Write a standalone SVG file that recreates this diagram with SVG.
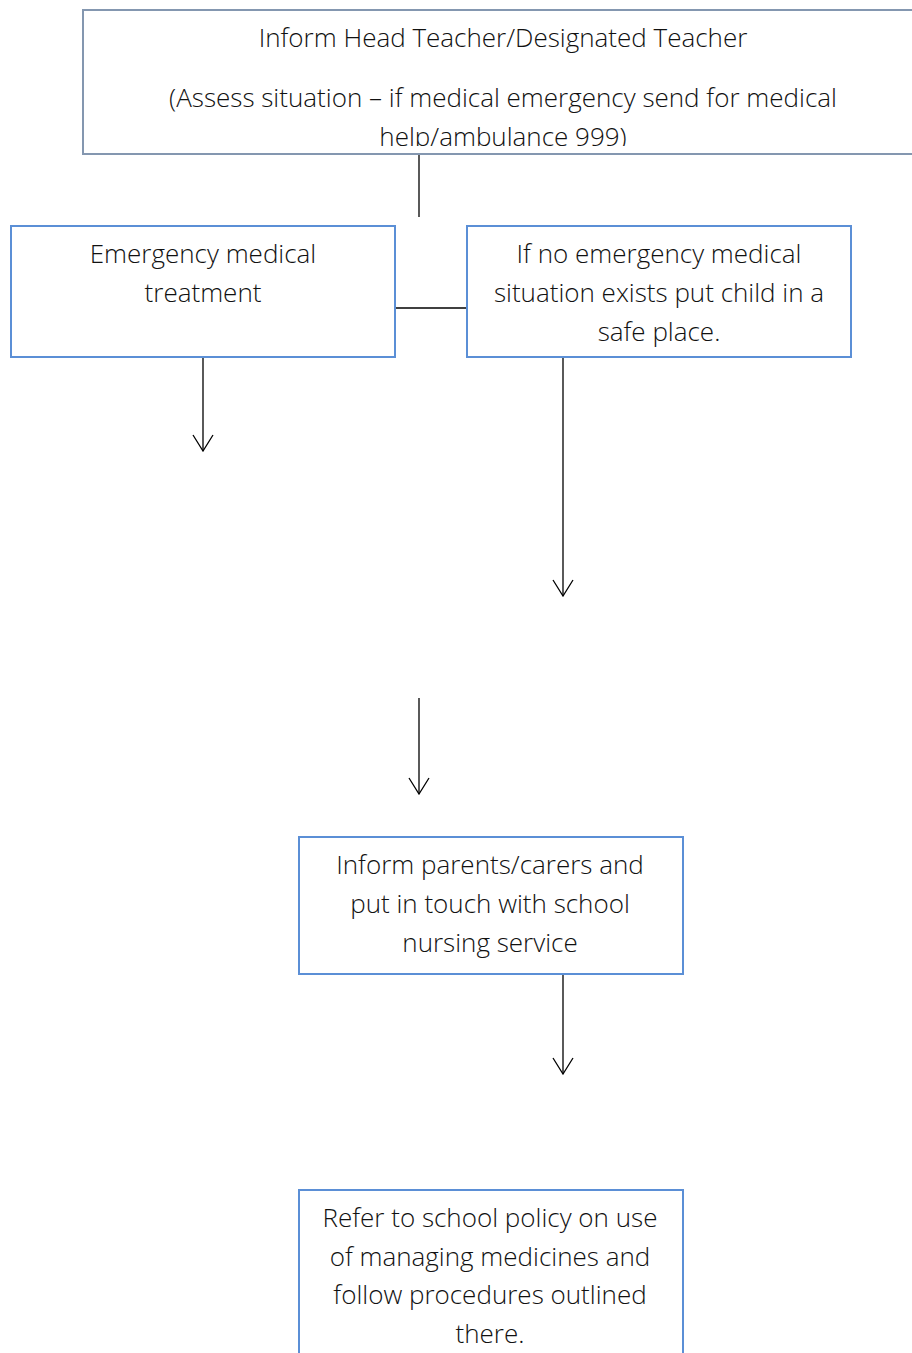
<svg xmlns="http://www.w3.org/2000/svg" width="912" height="1353" viewBox="0 0 912 1353">
<style>
text{font-family:"Open Sans","Liberation Sans",sans-serif;font-size:26px;font-weight:300;fill:#111;text-anchor:middle}
.box{fill:#fff;stroke:#5b8fd6;stroke-width:2}
.top{fill:#fff;stroke:#8497b0;stroke-width:2}
.ln{stroke:#000;stroke-width:1.3;fill:none}
</style>
<defs>
<clipPath id="c1"><rect x="84" y="11" width="830" height="135"/></clipPath>
<marker id="ah" viewBox="0 0 18 22" refX="17" refY="11" markerWidth="18" markerHeight="22" markerUnits="userSpaceOnUse" orient="auto">
<path d="M1 1 L17 11 L1 21" fill="none" stroke="#000" stroke-width="1.3"/>
</marker>
</defs>
<rect width="912" height="1353" fill="#fff"/>
<g id="connectors">
<line class="ln" x1="419" y1="154" x2="419" y2="217"/>
<line class="ln" x1="395" y1="308" x2="467" y2="308"/>
<path class="ln" d="M203 357 V451" marker-end="url(#ah)"/>
<path class="ln" d="M563 357 V596" marker-end="url(#ah)"/>
<path class="ln" d="M419 698 V794" marker-end="url(#ah)"/>
<path class="ln" d="M563 974 V1074" marker-end="url(#ah)"/>
</g>
<g id="node-inform-head">
<rect class="top" x="83" y="10" width="840" height="144"/>
<g clip-path="url(#c1)">
<text x="503" y="47">Inform Head Teacher/Designated Teacher</text>
<text x="503" y="107">(Assess situation – if medical emergency send for medical</text>
<text x="503" y="146">help/ambulance 999)</text>
</g>
</g>
<g id="node-emergency">
<rect class="box" x="11" y="226" width="384" height="131"/>
<text x="203" y="263">Emergency medical</text>
<text x="203" y="302">treatment</text>
</g>
<g id="node-no-emergency">
<rect class="box" x="467" y="226" width="384" height="131"/>
<text x="659" y="263">If no emergency medical</text>
<text x="659" y="302">situation exists put child in a</text>
<text x="659" y="341">safe place.</text>
</g>
<g id="node-inform-parents">
<rect class="box" x="299" y="837" width="384" height="137"/>
<text x="490" y="874">Inform parents/carers and</text>
<text x="490" y="913">put in touch with school</text>
<text x="490" y="952">nursing service</text>
</g>
<g id="node-refer-policy">
<rect class="box" x="299" y="1190" width="384" height="180"/>
<text x="490" y="1227">Refer to school policy on use</text>
<text x="490" y="1266">of managing medicines and</text>
<text x="490" y="1304">follow procedures outlined</text>
<text x="490" y="1343">there.</text>
</g>
</svg>
